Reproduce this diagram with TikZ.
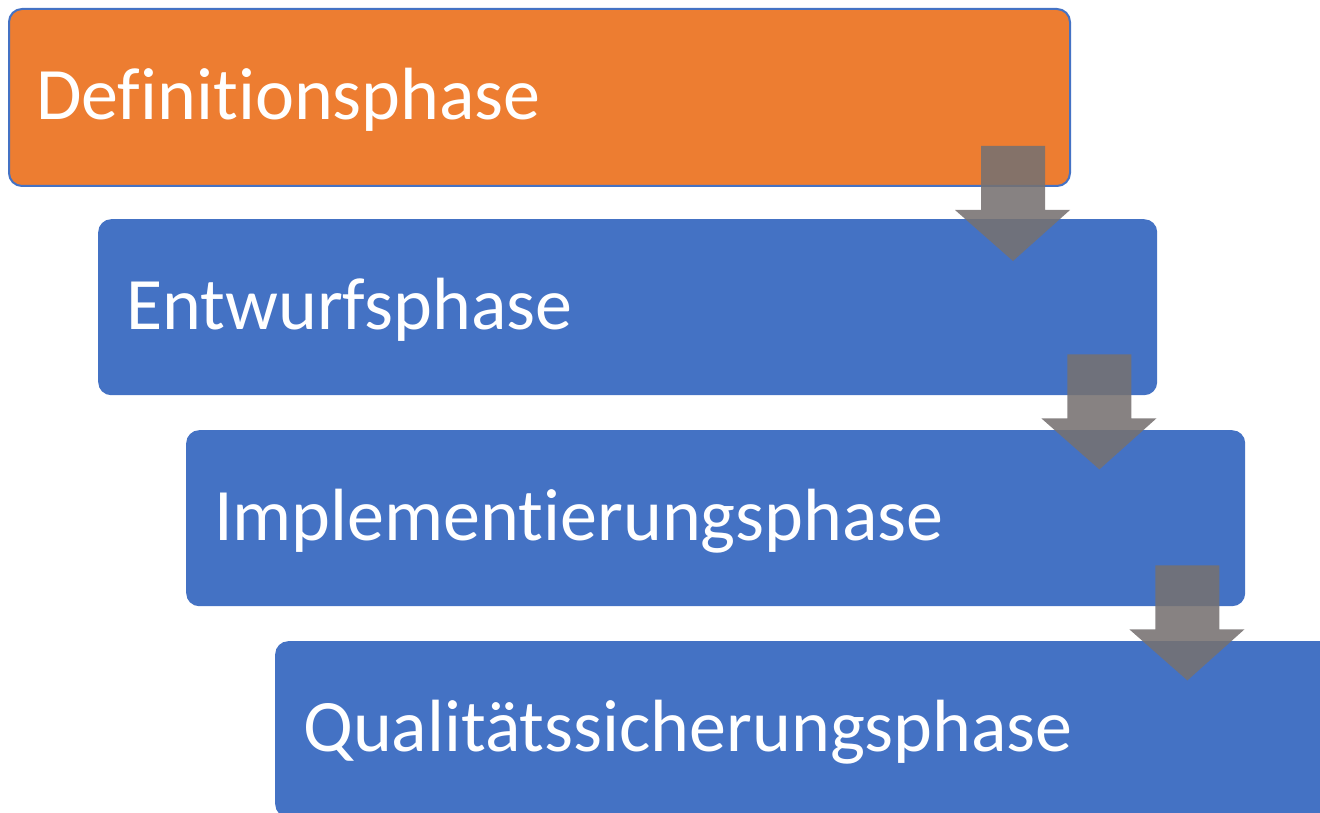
\documentclass[tikz,border=0pt]{standalone}
\usepackage{fontspec}
\setmainfont[Ligatures=NoCommon]{Carlito}
\usetikzlibrary{calc}
\definecolor{orangefill}{HTML}{ED7D31}
\definecolor{bluefill}{HTML}{4472C4}
\definecolor{arrowgray}{HTML}{767171}
\begin{document}
\begin{tikzpicture}[x=1pt,y=-1pt,
  phasebox/.style={rectangle, rounded corners=13pt, minimum width=1059pt, minimum height=176pt, anchor=north west, inner sep=0pt, fill=bluefill},
  phasetext/.style={anchor=base west, text=white, font=\fontsize{74}{80}\selectfont, inner sep=0pt},
  blockarrow/.style={fill=arrowgray, fill opacity=0.88}]
\useasboundingbox (0,0) rectangle (1320,813);
\node[phasebox, fill=orangefill, draw=bluefill, line width=2pt, minimum width=1061pt, minimum height=177pt] (p1) at (8,8) {};
\node[phasebox] (p2) at (98,219) {};
\node[phasebox] (p3) at (186,430) {};
\node[phasebox] (p4) at (275,641) {};
\node[phasetext] (t1) at ($(p1.west)+(28,22)$) {Definitionsphase};
\node[phasetext] (t2) at ($(p2.west)+(28,22)$) {Entwurfsphase};
\node[phasetext] (t3) at ($(p3.west)+(28,22)$) {Implementierungsphase};
\node[phasetext] (t4) at ($(p4.west)+(28,22)$) {Qualitätssicherungsphase};
\foreach \a in {p1,p2,p3} {
  \fill[blockarrow] ($(\a.south east)+(-90,-41)$) -- ($(\a.south east)+(-26,-41)$)
    -- ($(\a.south east)+(-26,23)$) -- ($(\a.south east)+(-1,23)$)
    -- ($(\a.south east)+(-58,74)$) -- ($(\a.south east)+(-116,23)$)
    -- ($(\a.south east)+(-90,23)$) -- cycle;
}
\end{tikzpicture}
\end{document}
